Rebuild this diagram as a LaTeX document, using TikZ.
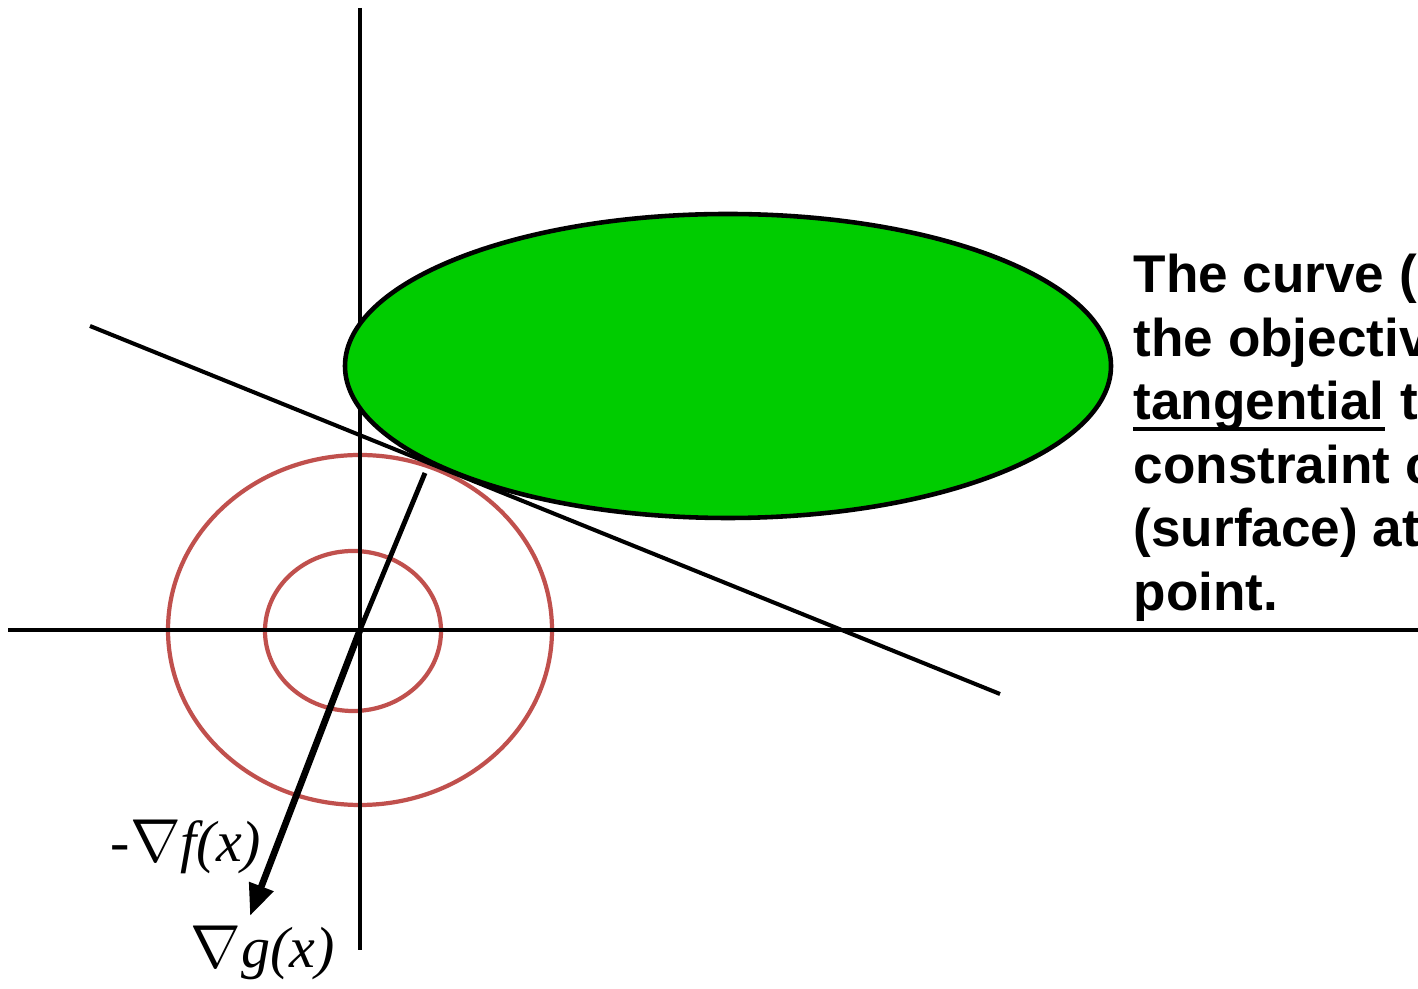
\documentclass[tikz,border=0pt]{standalone}
\usepackage{fontspec}
\setmainfont{Liberation Serif}
\newfontfamily\notefont{Liberation Sans}
\usetikzlibrary{arrows.meta}
\definecolor{regionfill}{RGB}{0,204,0}
\definecolor{levelred}{RGB}{192,80,77}
\tikzset{
  ax/.style    ={draw=black, line width=1.15pt},
  lvl/.style   ={draw=levelred, line width=1.2pt},
  tline/.style ={draw=black, line width=1.15pt},
  grd/.style   ={draw=black, line width=1.9pt, -{Triangle[length=9pt,width=7pt]}},
  note/.style  ={font=\notefont\fontsize{15.1}{18}\selectfont\bfseries, inner sep=0pt, anchor=base west},
  glab/.style  ={font=\fontsize{16.5}{18}\selectfont, inner sep=0pt, anchor=base west},
}

\begin{document}
\begin{tikzpicture}[x=0.01cm,y=-0.01cm]
  \useasboundingbox (0,0) rectangle (1418,989);
  \clip (0,0) rectangle (1418,989);
  % level sets of f
  \draw[lvl] (360,630) ellipse [x radius=192, y radius=175];
  \draw[lvl] (353,631) ellipse [x radius=88, y radius=80];
  % axes
  \draw[ax] (360,8) -- (360,950);
  \draw[ax] (8,630) -- (1418,630);
  % constraint region
  \draw[fill=regionfill, line width=1.3pt] (728,366) ellipse [x radius=383, y radius=152];
  % tangent
  \draw[tline] (90,326) -- (1000,694);
  % gradients
  \coordinate (o) at (360,630);
  \coordinate (touch) at (425,473);
  \coordinate (tip) at (250,916);
  \draw[tline, line width=1.4pt] (touch) -- (o);
  \draw[grd] (o) -- (tip);
  \node[glab] (gf) at (110,862) {-$\nabla$\textit{f(x)}};
  \node[glab] (gg) at (190,968) {$\nabla$\textit{g(x)}};
  % note
  \node[note] (l1) at (1133,293) {The curve (};
  \node[note] (l2) at (1133,356.5) {the objectiv};
  \node[note] (l3) at (1133,420) {tangential};
  \node[note] (l3b) at (l3.base east) {\ t};
  \node[note] (l4) at (1133,483.5) {constraint c};
  \node[note] (l5) at (1133,547) {(surface) at};
  \node[note] (l6) at (1133,610.5) {point.};
  \draw[line width=1pt] ([yshift=-2.6pt]l3.base west) -- ([yshift=-2.6pt]l3.base east);
\end{tikzpicture}
\end{document}
